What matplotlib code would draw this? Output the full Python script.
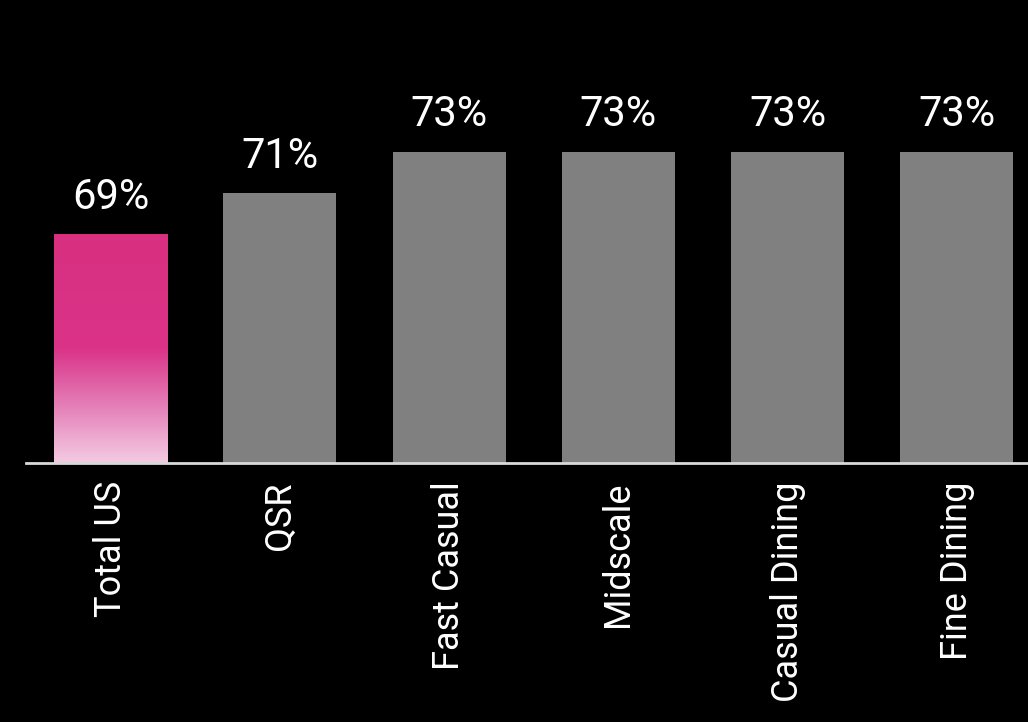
import matplotlib
matplotlib.use("Agg")
import matplotlib.pyplot as plt
import numpy as np
from matplotlib.colors import LinearSegmentedColormap

categories = ["Total US", "QSR", "Fast Casual", "Midscale", "Casual Dining", "Fine Dining"]
values = [69, 71, 73, 73, 73, 73]
labels = ["69%", "71%", "73%", "73%", "73%", "73%"]

plt.rcParams['font.family'] = ["Roboto", "DejaVu Sans"]

W, H = 1028, 722
fig = plt.figure(figsize=(W/100, H/100), dpi=100, facecolor="black")
ax_left, ax_right = 26, 1028
ax_top, ax_bottom = 6.5, 463
ax = fig.add_axes([ax_left/W, 1-ax_bottom/H, (ax_right-ax_left)/W, (ax_bottom-ax_top)/H])
ax.set_facecolor("black")

x = np.arange(len(categories))
bars = ax.bar(x, values, width=0.668, color="#808080", zorder=2)
ax.set_ylim(58, 80)

# gradient on first bar
b = bars[0]
b.set_facecolor("none")
cmap = LinearSegmentedColormap.from_list("pk", [(0.0, "#f4cbe2"), (0.25, "#e47fb8"), (0.5, "#da3388"), (1.0, "#d82f80")])
grad = np.linspace(0, 1, 256).reshape(-1, 1)
x0 = b.get_x()
ax.imshow(grad, extent=[x0, x0 + b.get_width(), 58, b.get_height()],
          origin="lower", aspect="auto", cmap=cmap, zorder=2)
ax.set_xlim(-0.5, 5.42)
ax.set_ylim(58, 80)

for xi, v, lab in zip(x, values, labels):
    ax.annotate(lab, (xi, v), xytext=(0, 12), textcoords="offset points",
                ha="center", va="bottom", color="white", fontsize=30)

for s in ["top", "right", "left"]:
    ax.spines[s].set_visible(False)
ax.spines["bottom"].set_color("#d9d9d9")
ax.spines["bottom"].set_linewidth(2)
ax.set_yticks([])
ax.set_xticks(x)
ax.set_xticklabels(categories, rotation=90, color="white", fontsize=26)
ax.tick_params(axis="x", length=0, pad=13)

fig.savefig("out.png", dpi=100, facecolor="black")
